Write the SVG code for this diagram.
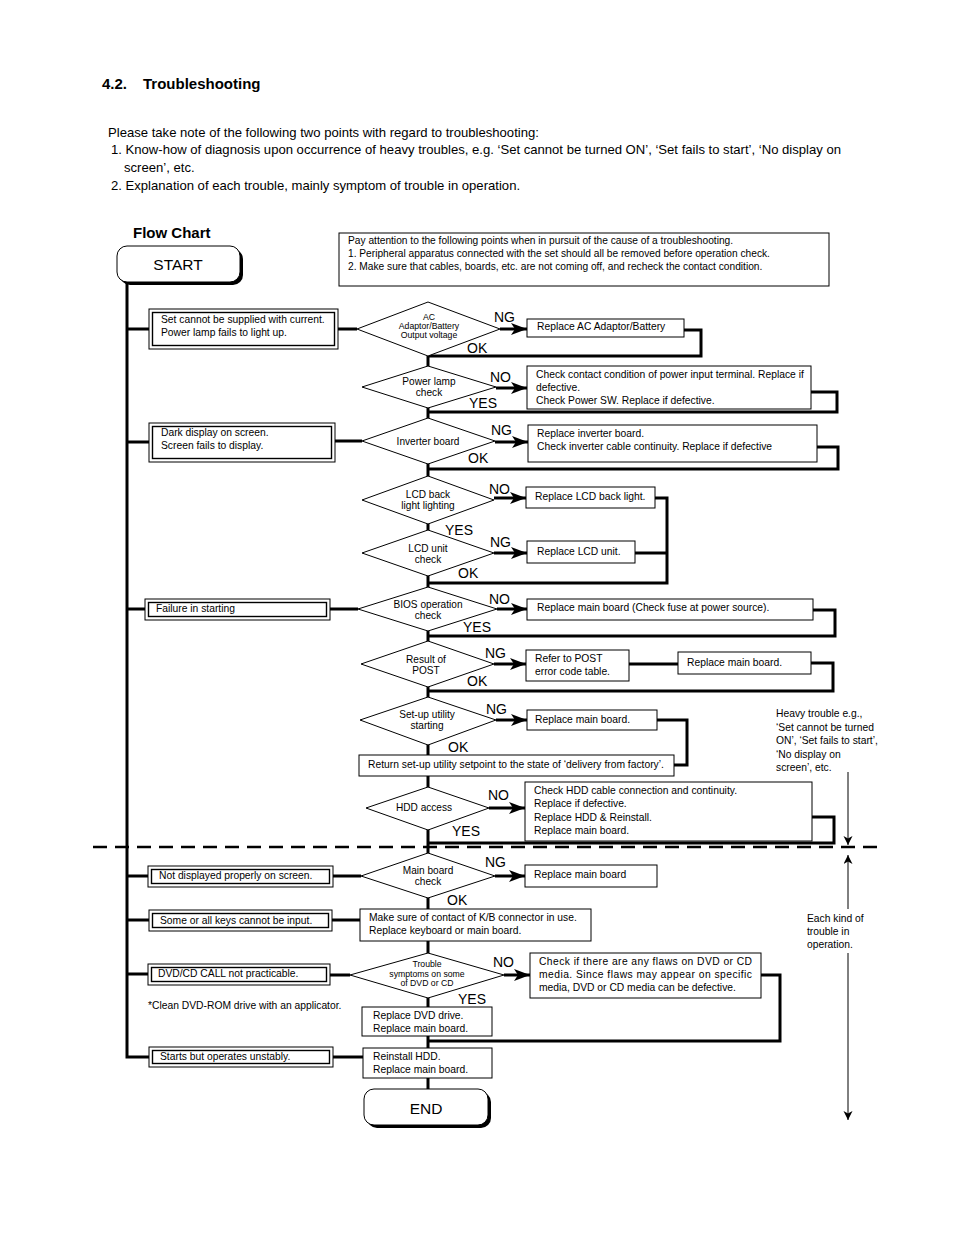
<svg xmlns="http://www.w3.org/2000/svg" width="954" height="1235" viewBox="0 0 954 1235">
<defs>
<style>
text{font-family:"Liberation Sans",Arial,sans-serif;fill:#000}
.h{font-size:15px;font-weight:bold}
.it{font-size:13.1px}
.bt{font-size:10.3px}
.nt{font-size:10.2px}
.an{font-size:10.3px}
.dt{font-size:10.1px;text-anchor:middle}
.ds{font-size:8.7px;text-anchor:middle}
.lb{font-size:14px}
.box{fill:#fff;stroke:#000;stroke-width:1}
.dia{fill:#fff;stroke:#000;stroke-width:1}
.dbo{fill:#fff;stroke:#000;stroke-width:1}
.dbi{fill:none;stroke:#000;stroke-width:1.4}
.flow{fill:none;stroke:#000;stroke-width:3}
.thin{fill:none;stroke:#000;stroke-width:1}
</style>
<marker id="ah" markerUnits="userSpaceOnUse" markerWidth="17" markerHeight="13" refX="16" refY="6" orient="auto">
<path d="M0,0 L16,6 L0,12 L4,6 z" fill="#000"/>
</marker>
<marker id="ahs" markerUnits="userSpaceOnUse" markerWidth="10" markerHeight="10" refX="9" refY="4.5" orient="auto">
<path d="M0,0 L9,4.5 L0,9 L2.5,4.5 z" fill="#000"/>
</marker>
</defs>
<rect width="954" height="1235" fill="#fff"/>

<g id="header">
<text class="h" x="102" y="89">4.2.</text>
<text class="h" x="143" y="89">Troubleshooting</text>
<text class="it" x="108" y="137">Please take note of the following two points with regard to troubleshooting:</text>
<text class="it" x="111" y="154">1. Know-how of diagnosis upon occurrence of heavy troubles, e.g. ‘Set cannot be turned ON’, ‘Set fails to start’, ‘No display on</text>
<text class="it" x="124" y="172">screen’, etc.</text>
<text class="it" x="111" y="190">2. Explanation of each trouble, mainly symptom of trouble in operation.</text>
<text class="h" x="133" y="238">Flow Chart</text>
</g>

<g id="connectors">
<path class="flow" d="M127,282 V1057 H149"/>
<line class="flow" x1="428" y1="356" x2="428" y2="1089"/>
<path class="flow" d="M127,329 H149 M338,329 H357"/>
<path class="flow" d="M127,442 H149 M335,441 H362"/>
<path class="flow" d="M127,609 H145 M330,609 H358"/>
<path class="flow" d="M127,876 H148 M333,876 H361"/>
<path class="flow" d="M127,920 H149 M332,920 H360"/>
<path class="flow" d="M127,974 H148 M330,975 H350"/>
<path class="flow" d="M333,1057 H363"/>
<line class="flow" x1="500" y1="329" x2="527" y2="329" marker-end="url(#ah)"/>
<line class="flow" x1="496" y1="388" x2="527" y2="388" marker-end="url(#ah)"/>
<line class="flow" x1="495" y1="442" x2="528" y2="442" marker-end="url(#ah)"/>
<line class="flow" x1="494" y1="498" x2="526" y2="498" marker-end="url(#ah)"/>
<line class="flow" x1="494" y1="553" x2="527" y2="553" marker-end="url(#ah)"/>
<line class="flow" x1="497" y1="609" x2="527" y2="609" marker-end="url(#ah)"/>
<line class="flow" x1="494" y1="664" x2="526" y2="664" marker-end="url(#ah)"/>
<line class="flow" x1="496" y1="720" x2="527" y2="720" marker-end="url(#ah)"/>
<line class="flow" x1="489" y1="808" x2="525" y2="808" marker-end="url(#ah)"/>
<line class="flow" x1="495" y1="876" x2="525" y2="876" marker-end="url(#ah)"/>
<line class="flow" x1="504" y1="975" x2="530" y2="975" marker-end="url(#ah)"/>
<path class="flow" d="M684,330 H701 V356 H428"/>
<path class="flow" d="M811,392 H837 V412 H428"/>
<path class="flow" d="M817,447 H838 V469 H428"/>
<path class="flow" d="M655,498 H667 V583 H428"/>
<path class="flow" d="M635,553 H667"/>
<path class="flow" d="M813,610 H835 V636 H428"/>
<path class="flow" d="M629,664 H678"/>
<path class="flow" d="M811,663 H833 V691 H428"/>
<path class="flow" d="M657,720 H687 V765 H674"/>
<path class="flow" d="M812,817 H834 V843 H428"/>
<path class="flow" d="M761,975 H780 V1041 H428"/>
<line x1="93" y1="847" x2="885" y2="847" stroke="#000" stroke-width="2.5" stroke-dasharray="14 8"/>
<line class="thin" x1="848" y1="772" x2="848" y2="845" marker-end="url(#ahs)"/>
<line class="thin" x1="848" y1="909" x2="848" y2="855" marker-end="url(#ahs)"/>
<line class="thin" x1="848" y1="953" x2="848" y2="1120" marker-end="url(#ahs)"/>
</g>

<g id="start">
<rect x="120" y="249" width="123" height="36" rx="10" fill="#000"/>
<rect class="box" x="117" y="246" width="123" height="36" rx="10"/>
<text x="178" y="270" style="font-size:15.5px" text-anchor="middle">START</text>
</g>

<g id="note">
<rect class="box" x="339" y="233" width="490" height="53"/>
<text class="nt" x="348" y="244">Pay attention to the following points when in pursuit of the cause of a troubleshooting.</text>
<text class="nt" x="348" y="257">1. Peripheral apparatus connected with the set should all be removed before operation check.</text>
<text class="nt" x="348" y="270">2. Make sure that cables, boards, etc. are not coming off, and recheck the contact condition.</text>
</g>

<g id="sym1">
<rect class="dbo" x="149" y="309" width="189" height="40"/>
<rect class="dbi" x="152.5" y="312.5" width="182" height="33"/>
<text class="bt" x="161" y="323">Set cannot be supplied with current.</text>
<text class="bt" x="161" y="336">Power lamp fails to light up.</text>
</g>
<g id="sym2">
<rect class="dbo" x="149" y="423" width="186" height="39"/>
<rect class="dbi" x="152.5" y="426.5" width="179" height="32"/>
<text class="bt" x="161" y="436">Dark display on screen.</text>
<text class="bt" x="161" y="449">Screen fails to display.</text>
</g>
<g id="sym3">
<rect class="dbo" x="145" y="599" width="185" height="21"/>
<rect class="dbi" x="148.5" y="602.5" width="178" height="14"/>
<text class="bt" x="156" y="612">Failure in starting</text>
</g>
<g id="sym4">
<rect class="dbo" x="148" y="866" width="185" height="21"/>
<rect class="dbi" x="151.5" y="869.5" width="178" height="14"/>
<text class="bt" x="159" y="879">Not displayed properly on screen.</text>
</g>
<g id="sym5">
<rect class="dbo" x="149" y="910" width="183" height="21"/>
<rect class="dbi" x="152.5" y="913.5" width="176" height="14"/>
<text class="bt" x="160" y="924">Some or all keys cannot be input.</text>
</g>
<g id="sym6">
<rect class="dbo" x="148" y="964" width="182" height="21"/>
<rect class="dbi" x="151.5" y="967.5" width="175" height="14"/>
<text class="bt" x="158" y="977">DVD/CD CALL not practicable.</text>
</g>
<g id="sym7">
<rect class="dbo" x="149" y="1047" width="184" height="20"/>
<rect class="dbi" x="152.5" y="1050.5" width="177" height="13"/>
<text class="bt" x="160" y="1060">Starts but operates unstably.</text>
</g>
<g id="cleannote">
<text class="bt" x="148" y="1009">*Clean DVD-ROM drive with an applicator.</text>
</g>

<g id="d1">
<polygon class="dia" points="357,329 428,302 500,329 428,356"/>
<text class="ds" x="429" y="320">AC</text>
<text class="ds" x="429" y="329">Adaptor/Battery</text>
<text class="ds" x="429" y="338">Output voltage</text>
<text class="lb" x="494" y="322">NG</text>
<text class="lb" x="467" y="353">OK</text>
</g>
<g id="r1">
<rect class="box" x="527" y="319" width="157" height="18"/>
<text class="bt" x="537" y="330">Replace AC Adaptor/Battery</text>
</g>

<g id="d2">
<polygon class="dia" points="362,387 428,366 496,387 428,408"/>
<text class="dt" x="429" y="385">Power lamp</text>
<text class="dt" x="429" y="396">check</text>
<text class="lb" x="490" y="382">NO</text>
<text class="lb" x="469" y="408">YES</text>
</g>
<g id="r2">
<rect class="box" x="527" y="366" width="284" height="43"/>
<text class="bt" x="536" y="378">Check contact condition of power input terminal. Replace if</text>
<text class="bt" x="536" y="391">defective.</text>
<text class="bt" x="536" y="404">Check Power SW. Replace if defective.</text>
</g>

<g id="d3">
<polygon class="dia" points="362,441 428,418 495,441 428,464"/>
<text class="dt" x="428" y="445">Inverter board</text>
<text class="lb" x="491" y="435">NG</text>
<text class="lb" x="468" y="463">OK</text>
</g>
<g id="r3">
<rect class="box" x="528" y="425" width="289" height="37"/>
<text class="bt" x="537" y="437">Replace inverter board.</text>
<text class="bt" x="537" y="450">Check inverter cable continuity. Replace if defective</text>
</g>

<g id="d4">
<polygon class="dia" points="362,500 428,476 494,500 428,524"/>
<text class="dt" x="428" y="498">LCD back</text>
<text class="dt" x="428" y="509">light lighting</text>
<text class="lb" x="489" y="494">NO</text>
<text class="lb" x="445" y="535">YES</text>
</g>
<g id="r4">
<rect class="box" x="526" y="487" width="129" height="21"/>
<text class="bt" x="535" y="500">Replace LCD back light.</text>
</g>

<g id="d5">
<polygon class="dia" points="362,553 428,530 494,553 428,576"/>
<text class="dt" x="428" y="552">LCD unit</text>
<text class="dt" x="428" y="563">check</text>
<text class="lb" x="490" y="547">NG</text>
<text class="lb" x="458" y="578">OK</text>
</g>
<g id="r5">
<rect class="box" x="527" y="541" width="108" height="22"/>
<text class="bt" x="537" y="555">Replace LCD unit.</text>
</g>

<g id="d6">
<polygon class="dia" points="358,609 428,587 497,609 428,631"/>
<text class="dt" x="428" y="608">BIOS operation</text>
<text class="dt" x="428" y="619">check</text>
<text class="lb" x="489" y="604">NO</text>
<text class="lb" x="463" y="632">YES</text>
</g>
<g id="r6">
<rect class="box" x="527" y="599" width="286" height="21"/>
<text class="bt" x="537" y="611">Replace main board (Check fuse at power source).</text>
</g>

<g id="d7">
<polygon class="dia" points="361,664 428,641 494,664 428,687"/>
<text class="dt" x="426" y="663">Result of</text>
<text class="dt" x="426" y="674">POST</text>
<text class="lb" x="485" y="658">NG</text>
<text class="lb" x="467" y="686">OK</text>
</g>
<g id="r7a">
<rect class="box" x="526" y="650" width="103" height="31"/>
<text class="bt" x="535" y="662">Refer to POST</text>
<text class="bt" x="535" y="675">error code table.</text>
</g>
<g id="r7b">
<rect class="box" x="678" y="652" width="133" height="22"/>
<text class="bt" x="687" y="666">Replace main board.</text>
</g>

<g id="d8">
<polygon class="dia" points="360,720 428,697 496,720 428,745"/>
<text class="dt" x="427" y="718">Set-up utility</text>
<text class="dt" x="427" y="729">starting</text>
<text class="lb" x="486" y="714">NG</text>
<text class="lb" x="448" y="752">OK</text>
</g>
<g id="r8">
<rect class="box" x="527" y="710" width="130" height="20"/>
<text class="bt" x="535" y="723">Replace main board.</text>
</g>
<g id="r8b">
<rect class="box" x="359" y="755" width="315" height="21"/>
<text class="bt" x="368" y="768">Return set-up utility setpoint to the state of ‘delivery from factory’.</text>
</g>

<g id="d9">
<polygon class="dia" points="366,808 428,787 489,808 428,830"/>
<text class="dt" x="424" y="811">HDD access</text>
<text class="lb" x="488" y="800">NO</text>
<text class="lb" x="452" y="836">YES</text>
</g>
<g id="r9">
<rect class="box" x="525" y="782" width="287" height="59"/>
<text class="bt" x="534" y="794">Check HDD cable connection and continuity.</text>
<text class="bt" x="534" y="807">Replace if defective.</text>
<text class="bt" x="534" y="821">Replace HDD &amp; Reinstall.</text>
<text class="bt" x="534" y="834">Replace main board.</text>
</g>

<g id="d10">
<polygon class="dia" points="361,876 428,853 495,876 428,898"/>
<text class="dt" x="428" y="874">Main board</text>
<text class="dt" x="428" y="885">check</text>
<text class="lb" x="485" y="867">NG</text>
<text class="lb" x="447" y="905">OK</text>
</g>
<g id="r10">
<rect class="box" x="525" y="865" width="132" height="22"/>
<text class="bt" x="534" y="878">Replace main board</text>
</g>

<g id="kb">
<rect class="box" x="360" y="909" width="231" height="32"/>
<text class="bt" x="369" y="921">Make sure of contact of K/B connector in use.</text>
<text class="bt" x="369" y="934">Replace keyboard or main board.</text>
</g>

<g id="d11">
<polygon class="dia" points="350,975 428,953 504,975 428,998"/>
<text class="ds" x="427" y="967">Trouble</text>
<text class="ds" x="427" y="977">symptoms on some</text>
<text class="ds" x="427" y="986">of DVD or CD</text>
<text class="lb" x="493" y="967">NO</text>
<text class="lb" x="458" y="1004">YES</text>
</g>
<g id="r11">
<rect class="box" x="530" y="953" width="231" height="45"/>
<text class="bt" x="539" y="965" textLength="213" lengthAdjust="spacing">Check if there are any flaws on DVD or CD</text>
<text class="bt" x="539" y="978" textLength="213" lengthAdjust="spacing">media. Since flaws may appear on specific</text>
<text class="bt" x="539" y="991">media, DVD or CD media can be defective.</text>
</g>

<g id="dvd">
<rect class="box" x="362" y="1007" width="130" height="29"/>
<text class="bt" x="373" y="1019">Replace DVD drive.</text>
<text class="bt" x="373" y="1032">Replace main board.</text>
</g>
<g id="hdd">
<rect class="box" x="363" y="1048" width="129" height="30"/>
<text class="bt" x="373" y="1060">Reinstall HDD.</text>
<text class="bt" x="373" y="1073">Replace main board.</text>
</g>

<g id="end">
<rect x="367" y="1092" width="124" height="36" rx="10" fill="#000"/>
<rect class="box" x="364" y="1089" width="124" height="36" rx="10"/>
<text x="426" y="1114" style="font-size:15.5px" text-anchor="middle">END</text>
</g>

<g id="annotations">
<text class="an" x="776" y="717">Heavy trouble e.g.,</text>
<text class="an" x="776" y="731">‘Set cannot be turned</text>
<text class="an" x="776" y="744">ON’, ‘Set fails to start’,</text>
<text class="an" x="776" y="758">‘No display on</text>
<text class="an" x="776" y="771">screen’, etc.</text>
<text class="an" x="807" y="922">Each kind of</text>
<text class="an" x="807" y="935">trouble in</text>
<text class="an" x="807" y="948">operation.</text>
</g>
</svg>
